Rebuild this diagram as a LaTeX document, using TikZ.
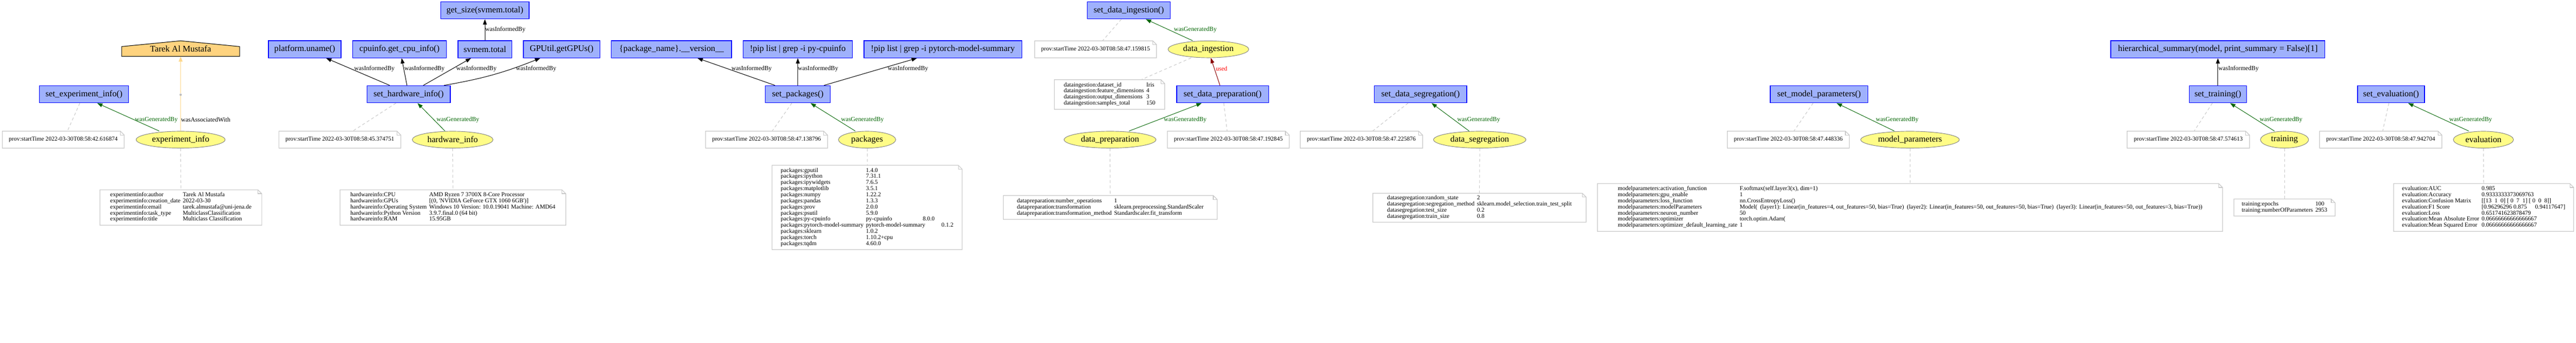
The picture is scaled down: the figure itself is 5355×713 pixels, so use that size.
\documentclass[tikz,border=0pt]{standalone}
\usepackage{fontspec}
\setmainfont{Liberation Serif}
\usetikzlibrary{arrows.meta,shapes.geometric,backgrounds}
\definecolor{boxfill}{RGB}{159,177,252}
\definecolor{boxdraw}{RGB}{0,0,255}
\definecolor{entfill}{RGB}{255,252,135}
\definecolor{entdraw}{RGB}{128,128,128}
\definecolor{agfill}{RGB}{254,211,127}
\definecolor{notegray}{RGB}{200,200,200}
\definecolor{gengreen}{RGB}{0,100,0}
\definecolor{useddark}{RGB}{139,0,0}
\definecolor{usedlabel}{RGB}{255,0,0}
\definecolor{assocorange}{RGB}{254,216,140}
\definecolor{dotgray}{RGB}{190,190,190}
\pgfdeclarelayer{bottom}
\pgfsetlayers{bottom,background,main}
\newcommand{\mainsize}{\fontsize{18}{21}\selectfont}
\newcommand{\notesize}{\fontsize{12.4}{12.7}\selectfont}
\newcommand{\edgesize}{\fontsize{13}{15}\selectfont}
\newcommand{\notebox}[5]{%
  \node[notetext,minimum width=#3,minimum height=#4] (#1) at (#2) {#5};
  \draw[noteline] (#1.south west) -- (#1.north west) -- ([xshift=-8pt]#1.north east)
     -- ([yshift=-8pt]#1.north east) -- (#1.south east) -- cycle;
  \draw[noteline] ([xshift=-8pt]#1.north east) |- ([yshift=-8pt]#1.north east);
}
\tikzset{
  act/.style={draw=boxdraw, fill=boxfill, line width=1.5pt, minimum height=35.5pt, inner sep=0pt, font=\mainsize},
  ent/.style={ellipse, draw=entdraw, fill=entfill, line width=1pt, minimum height=35pt, inner sep=0pt, font=\mainsize},
  agentnode/.style={minimum width=245pt, minimum height=32pt, inner sep=0pt, font=\mainsize},
  notetext/.style={inner sep=0pt, font=\notesize},
  noteline/.style={draw=notegray, line width=1.3pt, line join=miter},
  gen/.style={draw=gengreen, line width=1pt, -{Triangle[length=11pt,width=8pt]}},
  inf/.style={draw=black, line width=1.1pt, -{Triangle[length=11pt,width=8pt]}},
  usd/.style={draw=useddark, line width=1.1pt, -{Triangle[length=11pt,width=8pt]}},
  assoc/.style={draw=assocorange, line width=1.6pt},
  attach/.style={draw=notegray, line width=1.1pt, dash pattern=on 6pt off 5pt},
  elab/.style={font=\edgesize, anchor=west, inner sep=0pt},
  blank/.style={circle, fill=dotgray, minimum size=5pt, inner sep=0pt},
}
\begin{document}
\begin{tikzpicture}[x=1pt,y=-1pt]
\begin{pgfonlayer}{bottom}
\fill[white] (0,0) rectangle (5355,713);
\end{pgfonlayer}
\useasboundingbox (0,0) rectangle (5355,713);

% ---------- agent ----------
\node[agentnode] (ag) at (375.5,101) {Tarek Al Mustafa};
\begin{pgfonlayer}{background}
\filldraw[fill=agfill, draw=black, line width=1.1pt]
  (ag.south west) -- ([yshift=-12pt]ag.north west) -- (ag.north)
  -- ([yshift=-12pt]ag.north east) -- (ag.south east) -- cycle;
\end{pgfonlayer}
\node[blank] (bn) at (375.5,197) {};

% ---------- activities ----------
\node[act, minimum width=185pt] (a1) at (174.5,196) {set\_experiment\_info()};
\node[act, minimum width=173pt] (hw) at (849.5,196) {set\_hardware\_info()};
\node[act, minimum width=151pt] (pu) at (633.5,102.5) {platform.uname()};
\node[act, minimum width=195pt] (cpu) at (830.5,102.5) {cpuinfo.get\_cpu\_info()};
\node[act, minimum width=112pt] (svm) at (1008,102.5) {svmem.total};
\node[act, minimum width=184pt] (gs) at (1008,21.5) {get\_size(svmem.total)};
\node[act, minimum width=159pt] (gpu) at (1167.5,102.5) {GPUtil.getGPUs()};
\node[act, minimum width=250pt] (pv) at (1396,102.5) {\{package\_name\}.\_\_version\_\_};
\node[act, minimum width=135pt] (sp) at (1658.5,196) {set\_packages()};
\node[act, minimum width=227pt] (pc) at (1658.5,102.5) {!pip list | grep -i py-cpuinfo};
\node[act, minimum width=328pt] (pt) at (1960,102.5) {!pip list | grep -i pytorch-model-summary};
\node[act, minimum width=173pt] (di) at (2346.5,21.5) {set\_data\_ingestion()};
\node[act, minimum width=191pt] (dp) at (2541.5,196) {set\_data\_preparation()};
\node[act, minimum width=192pt] (ds) at (2953,196) {set\_data\_segregation()};
\node[act, minimum width=203pt] (mp) at (3781.5,196) {set\_model\_parameters()};
\node[act, minimum width=445pt] (hs) at (4610.5,102.5) {hierarchical\_summary(model, print\_summary = False)[1]};
\node[act, minimum width=119pt] (tr) at (4610.5,196) {set\_training()};
\node[act, minimum width=139pt] (ev) at (4970.5,196) {set\_evaluation()};

% ---------- entities ----------
\node[ent, minimum width=185pt] (e1) at (375.5,290.5) {experiment\_info};
\node[ent, minimum width=168pt] (e2) at (941,290.5) {hardware\_info};
\node[ent, minimum width=119pt] (e3) at (1802.5,290.5) {packages};
\node[ent, minimum width=168pt] (e4) at (2512,102.5) {data\_ingestion};
\node[ent, minimum width=191pt] (e5) at (2307.5,290.5) {data\_preparation};
\node[ent, minimum width=192pt] (e6) at (3076,290.5) {data\_segregation};
\node[ent, minimum width=205pt] (e7) at (3970.5,290.5) {model\_parameters};
\node[ent, minimum width=100pt] (e8) at (4749,290.5) {training};
\node[ent, minimum width=125pt] (e9) at (5162.5,290.5) {evaluation};

% ---------- start time notes ----------
\notebox{n1}{131.5,290.5}{253pt}{35pt}{prov:startTime 2022-03-30T08:58:42.616874}
\notebox{n2}{706.5,290.5}{253pt}{35pt}{prov:startTime 2022-03-30T08:58:45.374751}
\notebox{n3}{1593.5,290.5}{253pt}{35pt}{prov:startTime 2022-03-30T08:58:47.138796}
\notebox{n4}{2277.5,102.5}{253pt}{35pt}{prov:startTime 2022-03-30T08:58:47.159815}
\notebox{n5}{2553.5,290.5}{253pt}{35pt}{prov:startTime 2022-03-30T08:58:47.192845}
\notebox{n6}{2830,290.5}{254pt}{35pt}{prov:startTime 2022-03-30T08:58:47.225876}
\notebox{n7}{3717.5,290.5}{253pt}{35pt}{prov:startTime 2022-03-30T08:58:47.448336}
\notebox{n8}{4549,290.5}{254pt}{35pt}{prov:startTime 2022-03-30T08:58:47.574613}
\notebox{n9}{4949,290.5}{254pt}{35pt}{prov:startTime 2022-03-30T08:58:47.942704}

% ---------- attribute notes ----------
\notebox{m1}{376,431.5}{336pt}{73pt}{\begin{tabular}{@{}l@{\hspace{5pt}}l@{}}
experimentinfo:author & Tarek Al Mustafa\\
experimentinfo:creation\_date & 2022-03-30\\
experimentinfo:email & tarek.almustafa@uni-jena.de\\
experimentinfo:task\_type & MulticlassClassification\\
experimentinfo:title & Multiclass Classification
\end{tabular}}
\notebox{m2}{941.5,431.5}{469pt}{73pt}{\begin{tabular}{@{}l@{\hspace{5pt}}l@{}}
hardwareinfo:CPU & AMD Ryzen 7 3700X 8-Core Processor\\
hardwareinfo:GPUs & [(0, \textquotesingle NVIDIA GeForce GTX 1060 6GB\textquotesingle)]\\
hardwareinfo:Operating System & Windows 10 Version: 10.0.19041 Machine: AMD64\\
hardwareinfo:Python Version & 3.9.7.final.0 (64 bit)\\
hardwareinfo:RAM & 15.95GB
\end{tabular}}
\notebox{m3}{1802.5,431.5}{395pt}{175pt}{\begin{tabular}{@{}l@{\hspace{5pt}}l@{}}
packages:gputil & 1.4.0\\
packages:ipython & 7.31.1\\
packages:ipywidgets & 7.6.5\\
packages:matplotlib & 3.5.1\\
packages:numpy & 1.22.2\\
packages:pandas & 1.3.3\\
packages:prov & 2.0.0\\
packages:psutil & 5.9.0\\
packages:py-cpuinfo & \makebox[118pt][l]{py-cpuinfo}8.0.0\\
packages:pytorch-model-summary & \makebox[157pt][l]{pytorch-model-summary}0.1.2\\
packages:sklearn & 1.0.2\\
packages:torch & 1.10.2+cpu\\
packages:tqdm & 4.60.0
\end{tabular}}
\notebox{m4}{2306.5,196.5}{229pt}{61pt}{\begin{tabular}{@{}l@{\hspace{5pt}}l@{}}
dataingestion:dataset\_id & Iris\\
dataingestion:feature\_dimensions & 4\\
dataingestion:output\_dimensions & 3\\
dataingestion:samples\_total & 150
\end{tabular}}
\notebox{m5}{2308,431.5}{444pt}{49pt}{\begin{tabular}{@{}l@{\hspace{5pt}}l@{}}
datapreparation:number\_operations & 1\\
datapreparation:transformation & sklearn.preprocessing.StandardScaler\\
datapreparation:transformation\_method & Standardscaler.fit\_transform
\end{tabular}}
\notebox{m6}{3075.5,432}{443pt}{60pt}{\begin{tabular}{@{}l@{\hspace{5pt}}l@{}}
datasegregation:random\_state & 2\\
datasegregation:segregation\_method & sklearn.model\_selection.train\_test\_split\\
datasegregation:test\_size & 0.2\\
datasegregation:train\_size & 0.8
\end{tabular}}
\notebox{m7}{3970.5,431.5}{1299pt}{99pt}{\begin{tabular}{@{}l@{\hspace{5pt}}l@{}}
modelparameters:activation\_function & F.softmax(self.layer3(x), dim=1)\\
modelparameters:gpu\_enable & 1\\
modelparameters:loss\_function & nn.CrossEntropyLoss()\\
modelparameters:modelParameters & Model(~~(layer1): Linear(in\_features=4, out\_features=50, bias=True)~~(layer2): Linear(in\_features=50, out\_features=50, bias=True)~~(layer3): Linear(in\_features=50, out\_features=3, bias=True))\\
modelparameters:neuron\_number & 50\\
modelparameters:optimizer & torch.optim.Adam(\\
modelparameters:optimizer\_default\_learning\_rate & 1
\end{tabular}}
\notebox{m8}{4749,431.5}{210pt}{35pt}{\begin{tabular}{@{}l@{\hspace{5pt}}l@{}}
training:epochs & 100\\
training:numberOfParameters & 2953
\end{tabular}}
\notebox{m9}{5163,431.5}{374pt}{99pt}{\begin{tabular}{@{}l@{\hspace{5pt}}l@{}}
evaluation:AUC & 0.985\\
evaluation:Accuracy & 0.9333333373069763\\
evaluation:Confusion Matrix & [[13~~1~~0] [~0~~7~~1] [~0~~0~~8]]\\
evaluation:F1 Score & [0.96296296 \makebox[45pt][l]{0.875}0.94117647]\\
evaluation:Loss & 0.651741623878479\\
evaluation:Mean Absolute Error & 0.06666666666666667\\
evaluation:Mean Squared Error & 0.06666666666666667
\end{tabular}}

% ---------- association ----------
\draw[assoc] (e1.north) -- (bn);
\draw[assoc, -{Triangle[length=11pt,width=8pt]}] (bn) -- (ag.south);
\node[elab] (lassoc) at (376,249) {wasAssociatedWith};

% ---------- wasGeneratedBy ----------
\draw[gen] ([xshift=-44.5pt]e1.north) -- ([xshift=27.5pt]a1.south)
  node[elab, text=gengreen] (lg1) at (280,249) {wasGeneratedBy};
\draw[gen] ([xshift=-16pt]e2.north) -- ([xshift=18.5pt]hw.south)
  node[elab, text=gengreen] (lg2) at (907,249) {wasGeneratedBy};
\draw[gen] ([xshift=-24.5pt]e3.north) -- ([xshift=26.5pt]sp.south)
  node[elab, text=gengreen] (lg3) at (1748,249) {wasGeneratedBy};
\draw[gen] ([xshift=-33pt]e4.north) -- ([xshift=35.5pt]di.south)
  node[elab, text=gengreen] (lg4) at (2440,62) {wasGeneratedBy};
\draw[gen] ([xshift=39.5pt]e5.north) -- ([xshift=-43.5pt]dp.south)
  node[elab, text=gengreen] (lg5) at (2419,249) {wasGeneratedBy};
\draw[gen] ([xshift=-22pt]e6.north) -- ([xshift=23pt]ds.south)
  node[elab, text=gengreen] (lg6) at (3029,249) {wasGeneratedBy};
\draw[gen] ([xshift=-32.5pt]e7.north) -- ([xshift=36.5pt]mp.south)
  node[elab, text=gengreen] (lg7) at (3899,249) {wasGeneratedBy};
\draw[gen] ([xshift=-21pt]e8.north) -- ([xshift=25.5pt]tr.south)
  node[elab, text=gengreen] (lg8) at (4697,249) {wasGeneratedBy};
\draw[gen] ([xshift=-30.5pt]e9.north) -- ([xshift=35.5pt]ev.south)
  node[elab, text=gengreen] (lg9) at (5091,249) {wasGeneratedBy};

% ---------- wasInformedBy ----------
\draw[inf] ([xshift=-39.5pt]hw.north) -- ([xshift=44.5pt]pu.south)
  node[elab] (li1) at (736,143) {wasInformedBy};
\draw[inf] ([xshift=-3.5pt]hw.north) -- ([xshift=4.5pt]cpu.south)
  node[elab] (li2) at (840,143) {wasInformedBy};
\draw[inf] ([xshift=30.5pt]hw.north) -- ([xshift=-29pt]svm.south)
  node[elab] (li3) at (948,143) {wasInformedBy};
\draw[inf] ([xshift=73.5pt]hw.north) to[bend right=6] ([xshift=-44.5pt]gpu.south)
  node[elab] (li4) at (1072,143) {wasInformedBy};
\draw[inf] (svm.north) -- (gs.south)
  node[elab] (li5) at (1008,62) {wasInformedBy};
\draw[inf] ([xshift=-47.5pt]sp.north) -- ([xshift=54pt]pv.south)
  node[elab] (li6) at (1520,143) {wasInformedBy};
\draw[inf] (sp.north) -- (pc.south)
  node[elab] (li7) at (1658,143) {wasInformedBy};
\draw[inf] ([xshift=54.5pt]sp.north) -- ([xshift=-54pt]pt.south)
  node[elab] (li8) at (1845,143) {wasInformedBy};
\draw[inf] (tr.north) -- (hs.south)
  node[elab] (li9) at (4611,143) {wasInformedBy};

% ---------- used ----------
\draw[usd] ([xshift=-5.5pt]dp.north) -- ([xshift=5pt]e4.south)
  node[elab, text=usedlabel] (lu) at (2527,143) {used};

% ---------- note attachments ----------
\draw[attach] ([xshift=-8.5pt]a1.south) -- ([xshift=8.5pt]n1.north);
\draw[attach] (e1.south) -- (m1.north);
\draw[attach] ([xshift=-26.5pt]hw.south) -- ([xshift=26.5pt]n2.north);
\draw[attach] (e2.south) -- (m2.north);
\draw[attach] ([xshift=-12.5pt]sp.south) -- ([xshift=11.5pt]n3.north);
\draw[attach] (e3.south) -- (m3.north);
\draw[attach] ([xshift=-15.5pt]di.south) -- ([xshift=14.5pt]n4.north);
\draw[attach] ([xshift=-36pt]e4.south) -- ([xshift=65.5pt]m4.north);
\draw[attach] ([xshift=2.5pt]dp.south) -- ([xshift=-2.5pt]n5.north);
\draw[attach] (e5.south) -- (m5.north);
\draw[attach] ([xshift=-26pt]ds.south) -- ([xshift=23pt]n6.north);
\draw[attach] (e6.south) -- (m6.north);
\draw[attach] ([xshift=-12.5pt]mp.south) -- ([xshift=11.5pt]n7.north);
\draw[attach] (e7.south) -- (m7.north);
\draw[attach] ([xshift=-11.5pt]tr.south) -- ([xshift=12pt]n8.north);
\draw[attach] (e8.south) -- (m8.north);
\draw[attach] ([xshift=-4.5pt]ev.south) -- ([xshift=4pt]n9.north);
\draw[attach] (e9.south) -- (m9.north);
\end{tikzpicture}
\end{document}
